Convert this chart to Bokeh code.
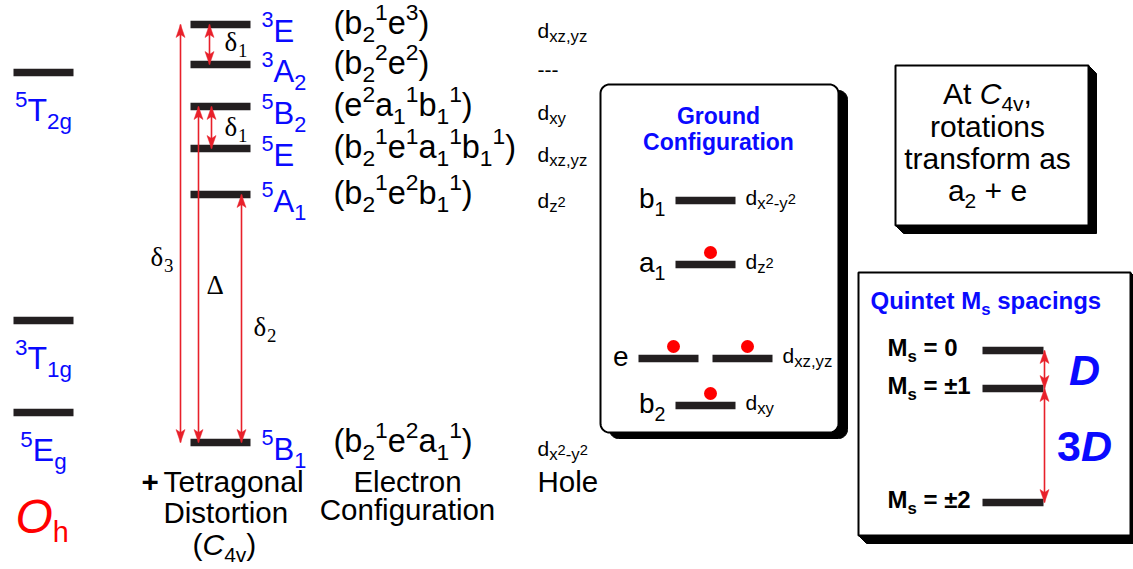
import numpy as np
from bokeh.plotting import figure
from bokeh.models import Range1d, ColumnDataSource
from bokeh.core.properties import value
from bokeh.embed import file_html
from bokeh.resources import INLINE

# ---------------- data (y = screen px, downward) ----------------
oh_states = ["^5T_{2g}", "^3T_{1g}", "^5E_{g}"]
oh_levels = [72, 320, 412]

c4v_states = ["^3E", "^3A_2", "^5B_2", "^5E", "^5A_1", "^5B_1"]
c4v_levels = [24, 64, 106, 148, 194, 442]
c4v_configs = ["(b_2^1e^3)", "(b_2^2e^2)", "(e^2a_1^1b_1^1)",
               "(b_2^1e^1a_1^1b_1^1)", "(b_2^1e^2b_1^1)", "(b_2^1e^2a_1^1)"]
c4v_holes = ["d_{xz,yz}", "---", "d_{xy}", "d_{xz,yz}", "d_{z}~{2}", "d_{x}~{2}_{-y}~{2}"]

split_labels = ["δ_3", "Δ", "δ_2", "δ_1", "δ_1"]
split_upper = [0, 2, 4, 0, 2]
split_lower = [5, 5, 5, 1, 3]

gs_orbitals = ["b_1", "a_1", "e", "b_2"]
gs_levels = [200, 264, 358, 405]
gs_electrons = [0, 1, 2, 1]
gs_dlabels = ["d_{x}~{2}_{-y}~{2}", "d_{z}~{2}", "d_{xz,yz}", "d_{xy}"]

ms_labels = ["M_s = 0", "M_s = ±1", "M_s = ±2"]
ms_levels = [350, 388, 502]
ms_gap_labels = ["|{D}", "3|{D}"]

column_titles = ["Tetragonal", "Distortion", "Electron", "Configuration", "Hole"]
note_lines = ["At |{C}_{4v},", "rotations", "transform as", "a_2 + e"]

# ---------------- layout / style ----------------
W, H = 1133, 569
SANS, SERIF = "Liberation Sans", "Liberation Serif"
BLUE, RED, ARROW, BAR = "#0a0aff", "#ff0000", "#e8202a", "#231f20"
split_x = [180, 198, 241, 209, 211]
split_lab_xy = [(150, 267), (206, 295), (253, 337), (224, 52), (224, 137)]
BASELINE_FIX = 0.40   # svg text sits lower than the requested alphabetic baseline

# Helvetica-compatible advance widths (per 1000 em)
_reg = dict(zip("abcdefghijklmnopqrstuvwxyz",
                [556, 556, 500, 556, 556, 278, 556, 556, 222, 222, 500, 222, 833, 556, 556, 556, 556, 333, 500, 278, 556, 500, 722, 500, 500, 500]))
_reg.update(dict(A=667, B=667, C=722, D=722, E=667, F=611, G=778, H=722, I=278, M=833, O=778, Q=778, T=611))
_bold = dict(zip("abcdefghijklmnopqrstuvwxyz",
                 [556, 611, 556, 611, 556, 333, 611, 611, 278, 278, 556, 278, 889, 611, 611, 611, 611, 389, 556, 333, 611, 556, 778, 556, 556, 500]))
_bold.update(dict(A=722, B=722, C=722, D=722, E=667, G=778, M=833, O=778, Q=778, T=611))
for t in (_reg, _bold):
    t.update({c: 556 for c in "0123456789"})
    t.update({" ": 278, "(": 333, ")": 333, ",": 278, "-": 333, "+": 584, "=": 584, "±": 584, ".": 278})
_times = {"δ": 500, "Δ": 612}
_times.update({c: 500 for c in "0123456789"})


def text_width(txt, size, font, bold):
    if font == SERIF:
        tbl = _times
    else:
        tbl = _bold if bold else _reg
    return sum(tbl.get(c, 556) for c in txt) * size / 1000.0


def parse(markup):
    segs, i, n = [], 0, len(markup)
    while i < n:
        c = markup[i]
        if c in "^_~|":
            i += 1
            if markup[i] == "{":
                j = markup.index("}", i)
                segs.append((markup[i + 1:j], c))
                i = j + 1
            else:
                segs.append((markup[i], c))
                i += 1
        else:
            j = i
            while j < n and markup[j] not in "^_~|":
                j += 1
            segs.append((markup[i:j], "n"))
            i = j
    return segs


groups = {}


def put(font, style, x, y, txt, size, color):
    g = groups.setdefault((font, style), dict(x=[], y=[], text=[], size=[], color=[]))
    g["x"].append(x); g["y"].append(y - BASELINE_FIX * size); g["text"].append(txt)
    g["size"].append("%.1fpx" % size); g["color"].append(color)


BASE_MODES = {"n": (1.0, 0.0, False), "|": (1.0, 0.0, True), "^": (0.7, 0.45, False),
              "_": (0.7, -0.25, False), "~": (0.7, 0.03, False)}


def rich(markup, x, y, size, color="black", font=SANS, bold=False, align="left", modes=None):
    m = dict(BASE_MODES)
    m.update(modes or {})
    items, cx = [], 0.0
    for txt, mode in parse(markup):
        f, dy, ital = m[mode]
        s = size * f
        stripped = txt.lstrip(" ")
        lead = text_width(txt[:len(txt) - len(stripped)], s, font, bold)
        if stripped.strip():
            items.append((cx + lead, y - dy * size, stripped.rstrip(" "), s, ital))
        cx += text_width(txt, s, font, bold)
    x0 = x - cx / 2 if align == "center" else (x - cx if align == "right" else x)
    for ox, yy, txt, s, ital in items:
        style = ("bold " if bold else "") + ("italic" if ital else "")
        put(font, style.strip() or "normal", x0 + ox, yy, txt, s, color)
    return cx


def rounded(x0, y0, x1, y1, r):
    xs, ys = [], []
    for cx, cy, a0 in [(x1 - r, y0 + r, -90), (x1 - r, y1 - r, 0), (x0 + r, y1 - r, 90), (x0 + r, y0 + r, 180)]:
        a = np.radians(np.linspace(a0, a0 + 90, 12))
        xs += list(cx + r * np.cos(a)); ys += list(cy + r * np.sin(a))
    return xs, ys


p = figure(width=W, height=H, x_range=Range1d(0, W), y_range=Range1d(H, 0),
           x_axis_type=None, y_axis_type=None, output_backend="svg", toolbar_location=None,
           min_border=0, background_fill_color="white")
p.grid.visible = False
p.outline_line_color = None

# ---------------- boxes ----------------
sx, sy = rounded(609, 90, 847, 438, 9)
p.patch(sx, sy, fill_color="black", line_color="black")
bx, by = rounded(600, 84, 838, 432, 9)
p.patch(bx, by, fill_color="white", line_color="black", line_width=2)


def bevel_box(x0, y0, x1, y1, d=8):
    p.patch([x1, x1 + d, x1 + d, x0 + d, x0, x1], [y0, y0 + d, y1 + d, y1 + d, y1, y1],
            fill_color="black", line_color="black")
    p.quad(left=x0, right=x1, top=y0, bottom=y1, fill_color="white", line_color="black", line_width=2)


bevel_box(895, 65, 1088, 225)
bevel_box(858, 272, 1130, 535)

# ---------------- level bars ----------------
bars = dict(x0=[], x1=[], y=[])
for lv in oh_levels:
    bars["x0"].append(13); bars["x1"].append(73); bars["y"].append(lv)
for lv in c4v_levels:
    bars["x0"].append(190); bars["x1"].append(250); bars["y"].append(lv)
for orb, lv in zip(gs_orbitals, gs_levels):
    spans = [(638, 698), (712, 772)] if orb == "e" else [(675, 735)]
    for a, b in spans:
        bars["x0"].append(a); bars["x1"].append(b); bars["y"].append(lv)
for lv in ms_levels:
    bars["x0"].append(982); bars["x1"].append(1043); bars["y"].append(lv)
p.segment(x0="x0", y0="y", x1="x1", y1="y", source=ColumnDataSource(bars),
          line_color=BAR, line_width=7.5, line_cap="butt")

# electrons
ex, ey = [], []
for orb, lv, ne in zip(gs_orbitals, gs_levels, gs_electrons):
    centres = [668, 742] if orb == "e" else [705]
    for k in range(ne):
        ex.append(centres[k % len(centres)] + 5); ey.append(lv - 12)
p.circle(x=ex, y=ey, radius=6.5, fill_color=RED, line_color=None)

# ---------------- arrows ----------------
arr = dict(x=[], ya=[], yb=[])
for xa, u, l in zip(split_x, split_upper, split_lower):
    arr["x"].append(xa); arr["ya"].append(c4v_levels[u]); arr["yb"].append(c4v_levels[l])
for a, b in zip(ms_levels[:-1], ms_levels[1:]):
    arr["x"].append(1044); arr["ya"].append(a); arr["yb"].append(b)
p.segment(x0="x", y0="ya", x1="x", y1="yb", source=ColumnDataSource(arr), line_color=ARROW, line_width=1.6)
hx, hy = [], []
L, HW, NOTCH = 13, 4.5, 3
for xa, ya, yb in zip(arr["x"], arr["ya"], arr["yb"]):
    hx.append([xa, xa - HW, xa, xa + HW]); hy.append([ya, ya + L, ya + L - NOTCH, ya + L])
    hx.append([xa, xa - HW, xa, xa + HW]); hy.append([yb, yb - L, yb - L + NOTCH, yb - L])
p.patches(xs=hx, ys=hy, fill_color=ARROW, line_color=ARROW, line_width=0.5)

# ---------------- texts ----------------
for st, lv in zip(oh_states, oh_levels):
    rich(st, 43, lv + 50, 32, BLUE, align="center")
rich("|{O}_h", 15, 535, 48, RED, modes={"_": (0.6, -0.16, False)})

for st, cf, ho, lv in zip(c4v_states, c4v_configs, c4v_holes, c4v_levels):
    rich(st, 261, lv + 19, 31, BLUE, modes={"^": (0.7, 0.5, False), "_": (0.7, -0.25, False)})
    rich(cf, 333, lv + 11, 32.5, "black", modes={"^": (0.7, 0.42, False), "_": (0.7, -0.25, False)})
    rich(ho, 537, lv + 14, 21, "black", modes={"_": (0.8, -0.22, False), "~": (0.7, 0.03, False)})

for lab, (lx, ly) in zip(split_labels, split_lab_xy):
    rich(lab, lx, ly, 27, "black", font=SERIF, modes={"_": (0.7, -0.22, False)})

rich("+", 141, 493, 29.5, "black", bold=True)
rich(column_titles[0], 163, 493, 30)
rich(column_titles[1], 163, 524, 29.5)
rich("(|{C}_{4v})", 192, 556, 30, modes={"_": (0.7, -0.22, False)})
rich(column_titles[2], 407, 493, 29.5, align="center")
rich(column_titles[3], 407, 521, 29.5, align="center")
rich(column_titles[4], 537, 493, 29.5)

# ground configuration box contents
rich("Ground", 718, 125, 23, BLUE, bold=True, align="center")
rich("Configuration", 718, 151, 23, BLUE, bold=True, align="center")
for orb, lv, dl in zip(gs_orbitals, gs_levels, gs_dlabels):
    left = 638 if orb == "e" else 675
    right = 772 if orb == "e" else 735
    rich(orb, left - 10, lv + 9, 28, "black", align="right")
    rich(dl, right + 10, lv + 5, 21, "black", modes={"_": (0.8, -0.22, False), "~": (0.7, 0.03, False)})

# note box
for line, yb in zip(note_lines, [105, 138, 170, 202]):
    rich(line, 987, yb, 30, "black", align="center", modes={"_": (0.7, -0.22, False)})

# quintet box
rich("Quintet M_s spacings", 870, 310, 24, BLUE, bold=True, modes={"_": (0.7, -0.22, False)})
for lab, lv in zip(ms_labels, ms_levels):
    rich(lab, 887, lv + 7, 24, "black", bold=True, modes={"_": (0.7, -0.22, False)})
for lab, a, b in zip(ms_gap_labels, ms_levels[:-1], ms_levels[1:]):
    rich(lab, 1084, (a + b) / 2 + 18, 43, BLUE, bold=True, align="center")

for (font, style), g in groups.items():
    p.text(x="x", y="y", text="text", source=ColumnDataSource(g), text_font=value(font),
           text_font_style=value(style), text_font_size="size", text_color="color",
           text_baseline="alphabetic", text_align="left")

open("out.html", "w").write(file_html(p, INLINE))
